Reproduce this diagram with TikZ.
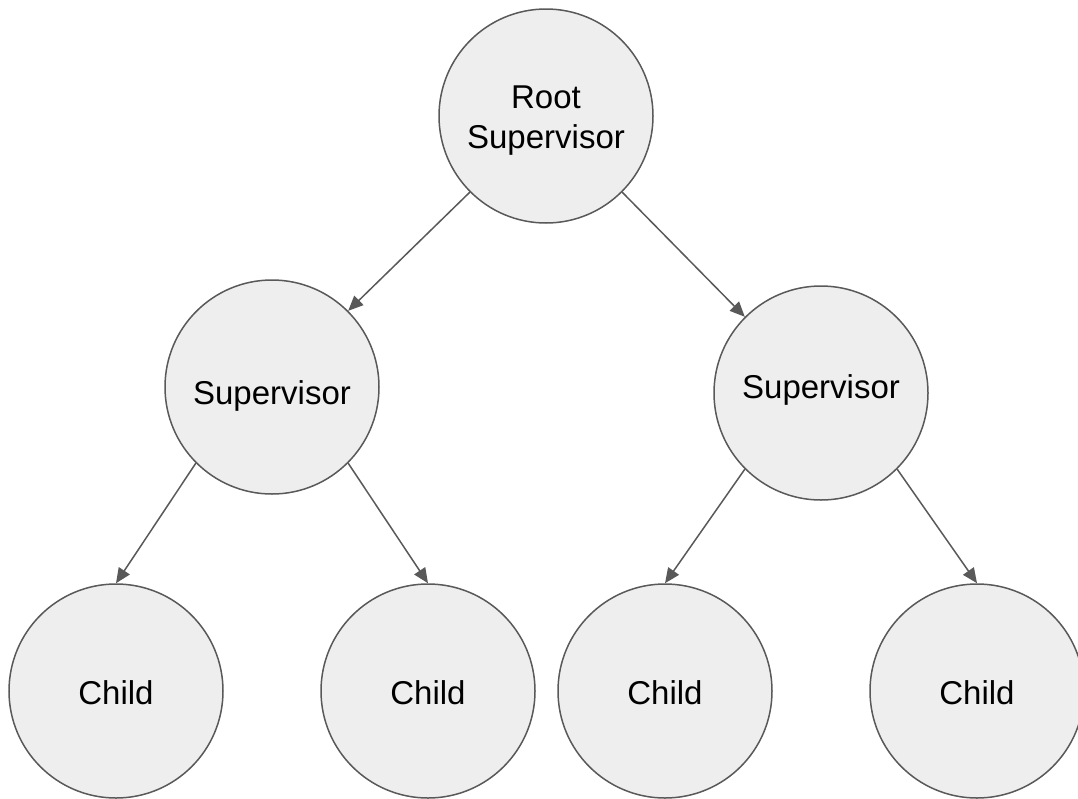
\documentclass[tikz,border=0pt]{standalone}
\usepackage{fontspec}
\setmainfont{Liberation Sans}
\usetikzlibrary{arrows.meta}
\definecolor{nodefill}{HTML}{EEEEEE}
\definecolor{edgegray}{HTML}{595959}
\begin{document}
\begin{tikzpicture}[x=1pt,y=-1pt,
  every node/.style={font=\fontsize{33}{40}\selectfont},
  bubble/.style={circle, draw=edgegray, line width=1.5pt, fill=nodefill,
    minimum size=214pt, inner sep=0pt, align=center},
  caption/.style={align=center, inner sep=0pt},
  link/.style={draw=edgegray, line width=1.5pt,
    -{Triangle[length=15pt,width=13pt]}}]
\useasboundingbox (0,0) rectangle (1078,798);
\clip (0,0) rectangle (1078,798);
% tree nodes, each with its caption set at the centre
\node[bubble, label={[caption, yshift=-5pt]center:Root\\Supervisor}] (root) at (546,116) {};
\node[bubble, label={[caption, yshift=-9pt]center:Supervisor}] (supl) at (272,387) {};
\node[bubble, label={[caption, yshift=3pt]center:Supervisor}] (supr) at (821,393) {};
\node[bubble, label={[caption, yshift=-2pt]center:Child}] (c1) at (116,691) {};
\node[bubble, label={[caption, yshift=-2pt]center:Child}] (c2) at (428,691) {};
\node[bubble, label={[caption, yshift=-2pt]center:Child}] (c3) at (665,691) {};
\node[bubble, label={[caption, yshift=-2pt]center:Child}] (c4) at (977,691) {};
% supervision links
\draw[link] (root.south west) -- (supl.north east);
\draw[link] (root.south east) -- (supr.north west);
\draw[link] (supl.south west) -- (c1.north);
\draw[link] (supl.south east) -- (c2.north);
\draw[link] (supr.south west) -- (c3.north);
\draw[link] (supr.south east) -- (c4.north);
\end{tikzpicture}
\end{document}
